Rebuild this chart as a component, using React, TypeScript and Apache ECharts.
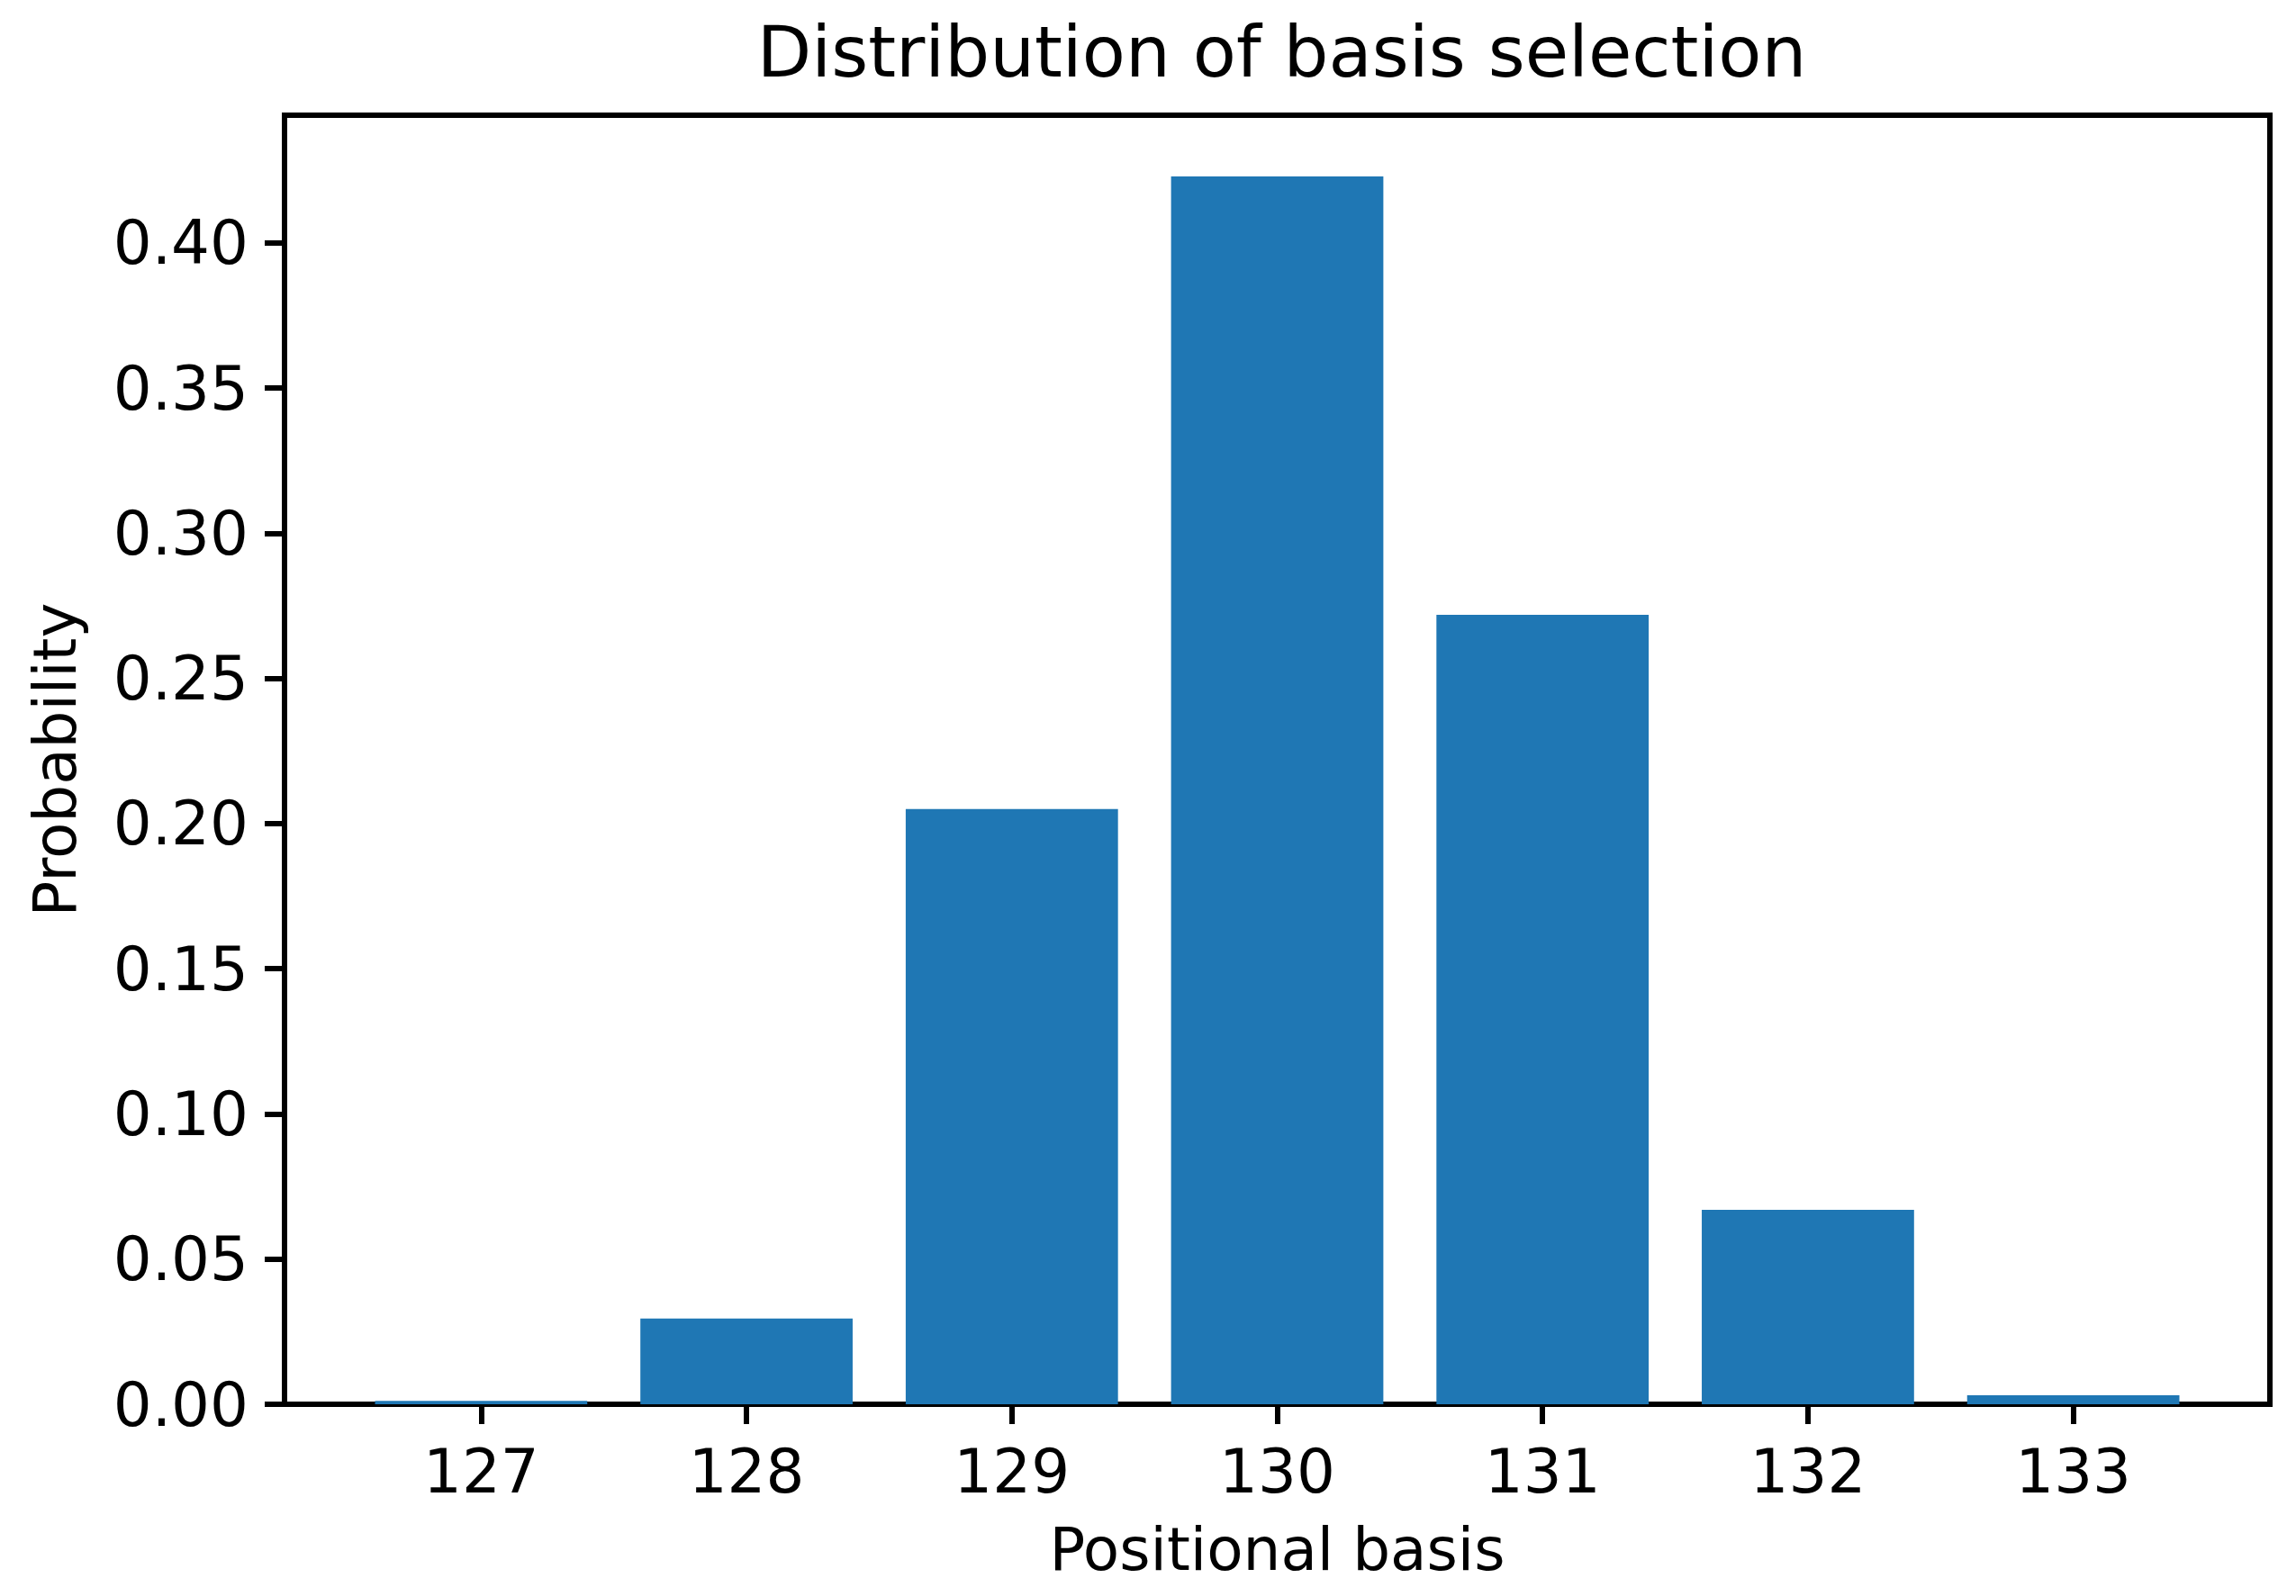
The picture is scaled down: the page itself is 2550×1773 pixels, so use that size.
import React, { useEffect, useRef } from "react";
import * as echarts from "echarts";

const categories = [127, 128, 129, 130, 131, 132, 133];
const probabilities = [0.0012, 0.0295, 0.205, 0.4229, 0.2719, 0.067, 0.0031];
const yTicks = [0, 0.05, 0.1, 0.15, 0.2, 0.25, 0.3, 0.35, 0.4];
const titleText = "Distribution of basis selection";
const xLabel = "Positional basis";
const yLabel = "Probability";

const W = 2550;
const H = 1773;
const GRID = { left: 316, right: 29, top: 128, bottom: 213 };
const X_MIN = 126.259;
const X_MAX = 133.741;
const Y_MAX = 0.444;
const FONT = "DejaVu Sans";

export default function App() {
  const ref = useRef<HTMLDivElement>(null);
  useEffect(() => {
    if (!ref.current) return;
    const chart = echarts.init(ref.current, null, { renderer: "svg" });
    const plotW = W - GRID.left - GRID.right;
    const barWidth = (0.8 * plotW) / (X_MAX - X_MIN);
    const lw = 6;
    const plotCenterX = GRID.left + plotW / 2;
    chart.setOption({
      animation: false,
      backgroundColor: "#ffffff",
      title: {
        text: titleText,
        left: plotCenterX,
        textAlign: "center",
        top: 13,
        textStyle: { fontFamily: FONT, fontSize: 78.7, fontWeight: "normal", color: "#000" },
      },
      grid: {
        ...GRID,
        show: true,
        borderColor: "#000",
        borderWidth: lw,
        backgroundColor: "transparent",
        containLabel: false,
      },
      xAxis: {
        type: "value",
        min: X_MIN,
        max: X_MAX,
        name: xLabel,
        nameLocation: "middle",
        nameGap: 128,
        nameTextStyle: { fontFamily: FONT, fontSize: 66, color: "#000" },
        axisLine: { show: true, lineStyle: { color: "#000", width: lw } },
        axisTick: {
          show: true,
          length: 22,
          lineStyle: { color: "#000", width: lw },
          customValues: categories,
        },
        axisLabel: {
          show: true,
          margin: 40,
          fontFamily: FONT,
          fontSize: 67.5,
          color: "#000",
          customValues: categories,
          formatter: (v: number) => String(Math.round(v)),
        },
        splitLine: { show: false },
      },
      yAxis: {
        type: "value",
        min: 0,
        max: Y_MAX,
        name: yLabel,
        nameLocation: "middle",
        nameGap: 222,
        nameRotate: 90,
        nameTextStyle: { fontFamily: FONT, fontSize: 66, color: "#000" },
        axisLine: { show: true, lineStyle: { color: "#000", width: lw } },
        axisTick: {
          show: true,
          length: 22,
          lineStyle: { color: "#000", width: lw },
          customValues: yTicks,
        },
        axisLabel: {
          show: true,
          margin: 40,
          fontFamily: FONT,
          fontSize: 67.5,
          color: "#000",
          customValues: yTicks,
          formatter: (v: number) => v.toFixed(2),
        },
        splitLine: { show: false },
      },
      series: [
        {
          type: "bar",
          data: categories.map((c, i) => [c, probabilities[i]]),
          barWidth,
          itemStyle: { color: "#1f77b4" },
          z: 1,
        },
      ],
    });
    return () => chart.dispose();
  }, []);
  return (
    <div
      ref={ref}
      style={{ position: "fixed", left: 0, top: 0, width: W, height: H, background: "#fff" }}
    />
  );
}
